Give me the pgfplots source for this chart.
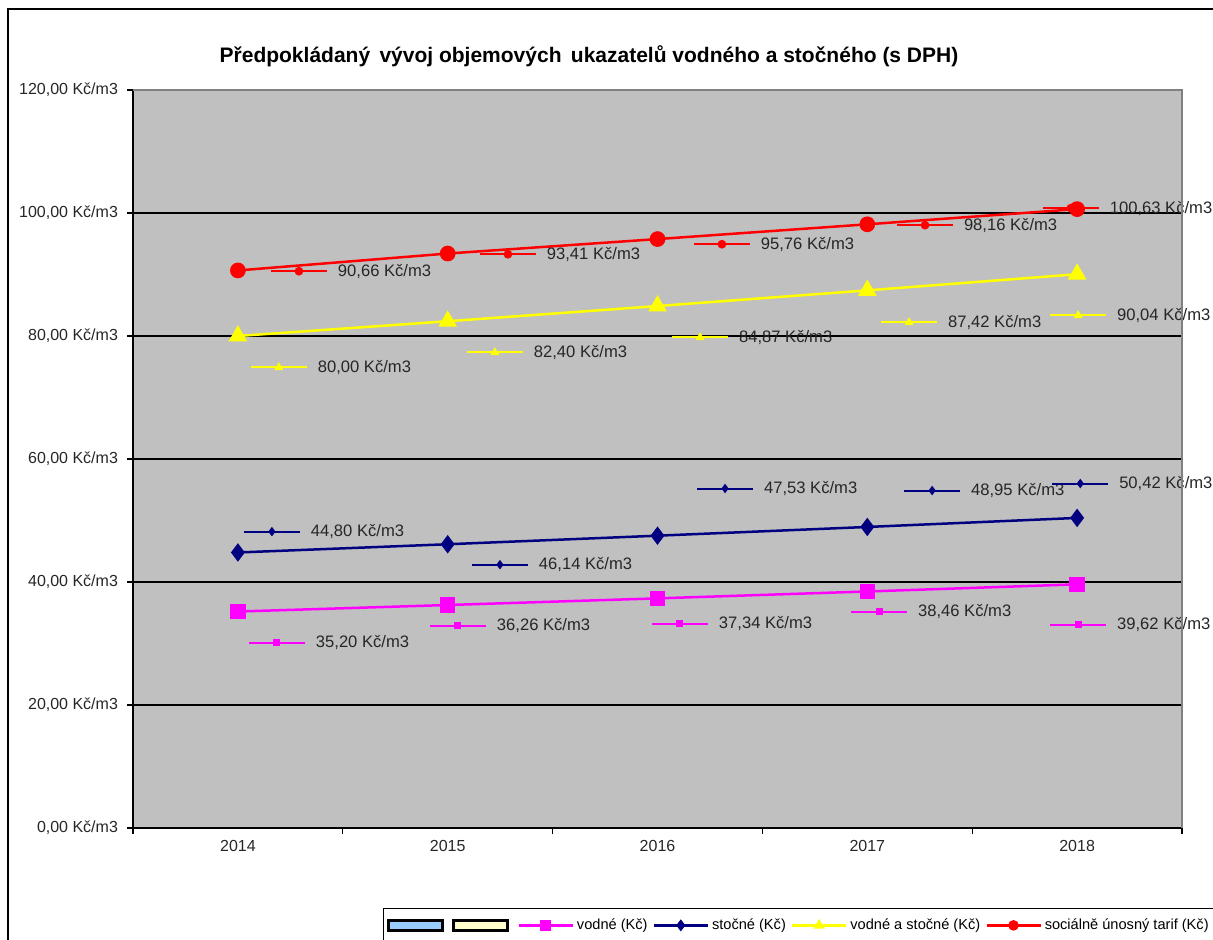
\documentclass[border=0pt]{standalone}
\usepackage{fontspec}
\setmainfont{Liberation Sans}
\usepackage{pgfplots}
\pgfplotsset{compat=1.18}
\definecolor{plotgray}{HTML}{C0C0C0}
\definecolor{bordergray}{HTML}{808080}
\definecolor{cmag}{HTML}{FF00FF}
\definecolor{cnavy}{HTML}{000080}
\definecolor{cyel}{HTML}{FFFF00}
\definecolor{cred}{HTML}{FF0000}
\definecolor{lblue}{HTML}{99CCFF}
\definecolor{lcream}{HTML}{FFFFCC}
\pgfdeclareplotmark{ksq}{%
  \pgfsetlinewidth{1pt}%
  \pgfpathmoveto{\pgfqpoint{-14pt}{0pt}}\pgfpathlineto{\pgfqpoint{14pt}{0pt}}\pgfusepathqstroke
  \pgfpathrectangle{\pgfqpoint{-1.75pt}{-1.75pt}}{\pgfqpoint{3.5pt}{3.5pt}}\pgfusepathqfill}
\pgfdeclareplotmark{kdia}{%
  \pgfsetlinewidth{1pt}%
  \pgfpathmoveto{\pgfqpoint{-14pt}{0pt}}\pgfpathlineto{\pgfqpoint{14pt}{0pt}}\pgfusepathqstroke
  \pgfpathmoveto{\pgfqpoint{0pt}{2.4pt}}\pgfpathlineto{\pgfqpoint{1.8pt}{0pt}}%
  \pgfpathlineto{\pgfqpoint{0pt}{-2.4pt}}\pgfpathlineto{\pgfqpoint{-1.8pt}{0pt}}\pgfpathclose\pgfusepathqfill}
\pgfdeclareplotmark{ktri}{%
  \pgfsetlinewidth{1pt}%
  \pgfpathmoveto{\pgfqpoint{-14pt}{0pt}}\pgfpathlineto{\pgfqpoint{14pt}{0pt}}\pgfusepathqstroke
  \pgfpathmoveto{\pgfqpoint{0pt}{2.6pt}}\pgfpathlineto{\pgfqpoint{2.3pt}{-1.4pt}}%
  \pgfpathlineto{\pgfqpoint{-2.3pt}{-1.4pt}}\pgfpathclose\pgfusepathqfill}
\pgfdeclareplotmark{kcirc}{%
  \pgfsetlinewidth{1pt}%
  \pgfpathmoveto{\pgfqpoint{-14pt}{0pt}}\pgfpathlineto{\pgfqpoint{14pt}{0pt}}\pgfusepathqstroke
  \pgfpathcircle{\pgfpointorigin}{2.2pt}\pgfusepathqfill}
\begin{document}
\begin{tikzpicture}
\begin{axis}[
  at={(66.5pt,-414pt)}, anchor=south west,
  scale only axis, width=524.5pt, height=369pt,
  xmin=-0.5, xmax=4.5, ymin=0, ymax=120,
  axis x line*=bottom, axis y line*=left,
  axis line style={black, line width=0.75pt},
  axis background/.style={fill=plotgray},
  xtick={0,1,2,3,4}, xticklabels={2014,2015,2016,2017,2018},
  minor xtick={-0.5,0.5,1.5,2.5,3.5,4.5},
  major x tick style={draw=none},
  minor x tick style={black, line width=0.6pt},
  ytick={0,20,40,60,80,100,120},
  yticklabels={{0,00 Kč/m3},{20,00 Kč/m3},{40,00 Kč/m3},{60,00 Kč/m3},{80,00 Kč/m3},{100,00 Kč/m3},{120,00 Kč/m3}},
  major y tick style={black, line width=0.6pt},
  tick align=outside, major tick length=3pt, minor tick length=3pt,
  ymajorgrids, grid style={black, line width=0.6pt},
  /pgf/number format/assume math mode=true,
  ticklabel style={font=\fontsize{8}{9.6}\selectfont, text=black!85},
  xticklabel style={yshift=0.5pt},
  yticklabel style={xshift=-1pt},
  title={Předpokládaný\, vývoj objemových\, ukazatelů vodného a stočného (s DPH)},
  title style={at={(0.4347,1.0298)}, anchor=center, font=\bfseries\fontsize{10.5}{12}\selectfont},
  legend style={at={(0.2383,-0.1084)}, anchor=north west, draw=black, line width=0.5pt,
    fill=white, font=\fontsize{7.3}{9}\selectfont, inner xsep=2pt, inner ysep=3pt,
    nodes={inner xsep=1.5pt},
    /tikz/every even column/.append style={column sep=1pt}},
  legend columns=-1,
  legend image code/.code={\draw[#1, line width=1.25pt, mark size=2pt, mark repeat=2, mark phase=2] plot coordinates {(0pt,0pt) (13.5pt,0pt) (27pt,0pt)};},
  every node near coord/.append style={anchor=west, xshift=19pt, inner sep=0pt, text=black!85, font=\fontsize{8.3}{10}\selectfont},
]
\addlegendimage{legend image code/.code={\draw[fill=lblue, draw=black, line width=1.5pt] (0pt,-2.6pt) rectangle (27pt,2.6pt);}}
\addlegendentry{}
\addlegendimage{legend image code/.code={\draw[fill=lcream, draw=black, line width=1.5pt] (0pt,-2.6pt) rectangle (27pt,2.6pt);}}
\addlegendentry{}
% main series
\addplot[cmag, line width=1.25pt, mark=square*, mark size=3.2pt] coordinates {(0,35.20) (1,36.26) (2,37.34) (3,38.46) (4,39.62)};
\addlegendentry{vodné (Kč)}
\addplot[cnavy, line width=1.25pt, mark=diamond*, mark size=3.6pt] coordinates {(0,44.80) (1,46.14) (2,47.53) (3,48.95) (4,50.42)};
\addlegendentry{stočné (Kč)}
\addplot[cyel, line width=1.25pt, mark=triangle*, mark size=4.2pt] coordinates {(0,80.00) (1,82.40) (2,84.87) (3,87.42) (4,90.04)};
\addlegendentry{vodné a stočné (Kč)}
\addplot[cred, line width=1.25pt, mark=*, mark size=3.3pt] coordinates {(0,90.66) (1,93.41) (2,95.76) (3,98.16) (4,100.63)};
\addlegendentry{sociálně únosný tarif (Kč)}
% data labels with keys
\addplot[forget plot, only marks, cmag, mark=ksq, nodes near coords, point meta=explicit symbolic] coordinates {
 (0.186,30.12) [35,20 Kč/m3]
 (1.049,32.89) [36,26 Kč/m3]
 (2.107,33.21) [37,34 Kč/m3]
 (3.056,35.17) [38,46 Kč/m3]
 (4.005,33.05) [39,62 Kč/m3]};
\addplot[forget plot, only marks, cnavy, mark=kdia, nodes near coords, point meta=explicit symbolic] coordinates {
 (0.162,48.19) [44,80 Kč/m3]
 (1.249,42.82) [46,14 Kč/m3]
 (2.322,55.20) [47,53 Kč/m3]
 (3.309,54.87) [48,95 Kč/m3]
 (4.015,56.01) [50,42 Kč/m3]};
\addplot[forget plot, only marks, cyel, mark=ktri, nodes near coords, point meta=explicit symbolic] coordinates {
 (0.195,74.90) [80,00 Kč/m3]
 (1.225,77.34) [82,40 Kč/m3]
 (2.203,79.78) [84,87 Kč/m3]
 (3.199,82.22) [87,42 Kč/m3]
 (4.005,83.36) [90,04 Kč/m3]};
\addplot[forget plot, only marks, cred, mark=kcirc, nodes near coords, point meta=explicit symbolic] coordinates {
 (0.291,90.53) [90,66 Kč/m3]
 (1.287,93.29) [93,41 Kč/m3]
 (2.307,94.92) [95,76 Kč/m3]
 (3.275,98.02) [98,16 Kč/m3]
 (3.97,100.79) [100,63 Kč/m3]};
\end{axis}
\draw[bordergray, line width=1pt] (66.5pt,-45pt) -- (591pt,-45pt) -- (591pt,-414pt);
\draw[black, line width=1pt] (4pt,-480pt) -- (4pt,-4.5pt) -- (620pt,-4.5pt);
\pgfresetboundingbox
\path[use as bounding box] (0pt,0pt) rectangle (606.5pt,-470pt);
\end{tikzpicture}
\end{document}
